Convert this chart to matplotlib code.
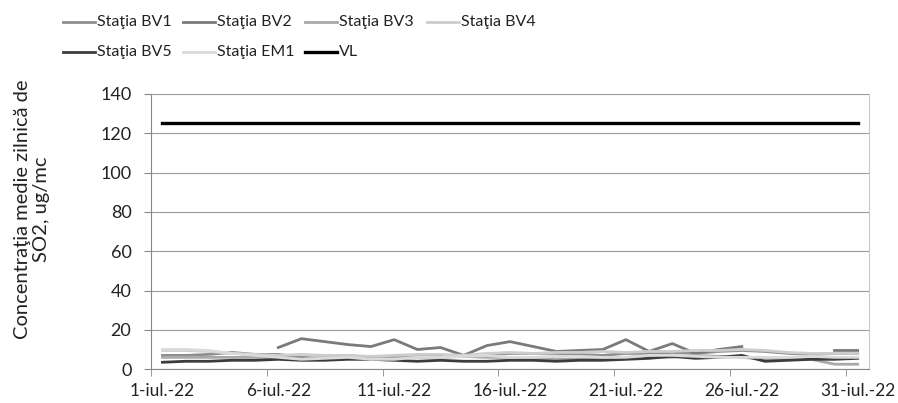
import numpy as np
import matplotlib
matplotlib.use("Agg")
import matplotlib.pyplot as plt
from matplotlib.lines import Line2D

plt.rcParams['font.family'] = ['Lato', 'Noto Sans', 'DejaVu Sans']

nan = np.nan
days = list(range(1, 32))

# daily SO2 means per station
bv1 = [7, 7, 7.5, 8.5, 7.5, 7.5, 6, 5.5, 6.5, 6, 6.5, 7, 7, 6.5, 7.5, 8, 8, 8, 7.5, 7,
       8, 8, 8.5, 8, 9, 9.5, 9, 8, 7.5, 8, 8]
bv2 = [nan, nan, nan, nan, nan, 11, 15.5, 14, 12.5, 11.5, 15, 10, 11, 7, 12, 14, 11.5, 9,
       9.5, 10, 15, 9, 13, 8, 10, 11.5, nan, nan, nan, 9.5, 9.5]
bv3 = [6, 6, 6, 6, 6, 6, 5, 6, 7, 6, 5.5, 6, 6, 6.5, 6, 6, 5.5, 5, 5, 5.5, 6, 6.5, 6, 7,
       6.5, 6, 5, 5, 5, 2.5, 2.5]
bv4 = [9.5, 9.5, 9, 8, 7.5, 7, 7.5, 7, 7, 6.5, 7, 7.5, 7.5, 7, 8, 8.5, 8, 8.5, 8.5, 9,
       8.5, 9, 9, 9.5, 9.5, 10, 9.5, 8.5, 8, 8, 8]
bv5 = [3.5, 4, 4, 4.5, 4.5, 5, 4.5, 4.5, 5, 5, 4.5, 4, 4.5, 4, 4, 4.5, 4.5, 4, 4.5, 4.5,
       5, 5.5, 6.5, 5.5, 6, 7, 4, 4.5, 5, 5, 5.5]
em1 = [10, 10, 9.5, 8, 7, 6, 5, 5.5, 6, 5, 5, 6, 6, 6.5, 7, 6, 6, 6.5, 6.5, 6, 6, 7, 7,
       6.5, 6, 6, 6, 6, 6.5, 6, 6]
vl = [125] * 31

tick_days = [1, 6, 11, 16, 21, 26, 31]
tick_labels = ["%d-iul.-22" % d for d in tick_days]

W, H = 898, 403
fig = plt.figure(figsize=(W / 100, H / 100), dpi=100)
ax = fig.add_axes([0.168, 0.084, 0.800, 0.683])

series = [
    ("Staţia BV1", bv1, "#8e8e8e"),
    ("Staţia BV2", bv2, "#7a7a7a"),
    ("Staţia BV3", bv3, "#a9a9a9"),
    ("Staţia BV4", bv4, "#cdcdcd"),
    ("Staţia BV5", bv5, "#3c3c3c"),
    ("Staţia EM1", em1, "#dadada"),
    ("VL", vl, "#000000"),
]
lines = []
for name, vals, col in series:
    ln, = ax.plot(days, vals, color=col, lw=2.0 if name != "VL" else 2.4, label=name)
    lines.append(ln)

ax.set_xlim(0.5, 31.5)
ax.set_ylim(0, 140)
ax.set_yticks(range(0, 141, 20))
# labels centred on the day, tick marks on the day boundaries (Excel style)
ax.set_xticks(tick_days)
ax.set_xticklabels(tick_labels)
ax.set_xticks([d - 0.5 for d in tick_days], minor=True)
ax.tick_params(axis="x", which="major", length=0, pad=10, labelsize=12.5)
ax.tick_params(axis="x", which="minor", length=5, color="#888888")
ax.tick_params(axis="y", length=5, color="#888888", pad=9, labelsize=13)
ax.tick_params(labelcolor="#222222")
ax.grid(axis="y", color="#9a9a9a", lw=0.8)
ax.set_axisbelow(True)
ax.spines["top"].set_visible(False)
ax.spines["right"].set_color("#c8c8c8")
ax.spines["left"].set_color("#888888")
ax.spines["bottom"].set_color("#888888")

ax.set_ylabel("Concentraţia medie zilnică de\nSO2, ug/mc", fontsize=14.5,
              color="#222222", linespacing=1.15)
ax.yaxis.set_label_coords(-0.14, 0.58)

# legend laid out by hand, row by row like the original
col_x = [63, 183, 305, 427]
row_y = [22, 52]
for i, ln in enumerate(lines):
    r, c = divmod(i, 4)
    x0, y0 = col_x[c], H - row_y[r]
    fig.add_artist(Line2D([x0 / W, (x0 + 32) / W], [y0 / H, y0 / H],
                          color=ln.get_color(), lw=ln.get_linewidth(),
                          transform=fig.transFigure))
    fig.text((x0 + 34) / W, y0 / H, ln.get_label(), fontsize=11.5,
             color="#222222", va="center", ha="left")

fig.savefig("out.png", dpi=100)
